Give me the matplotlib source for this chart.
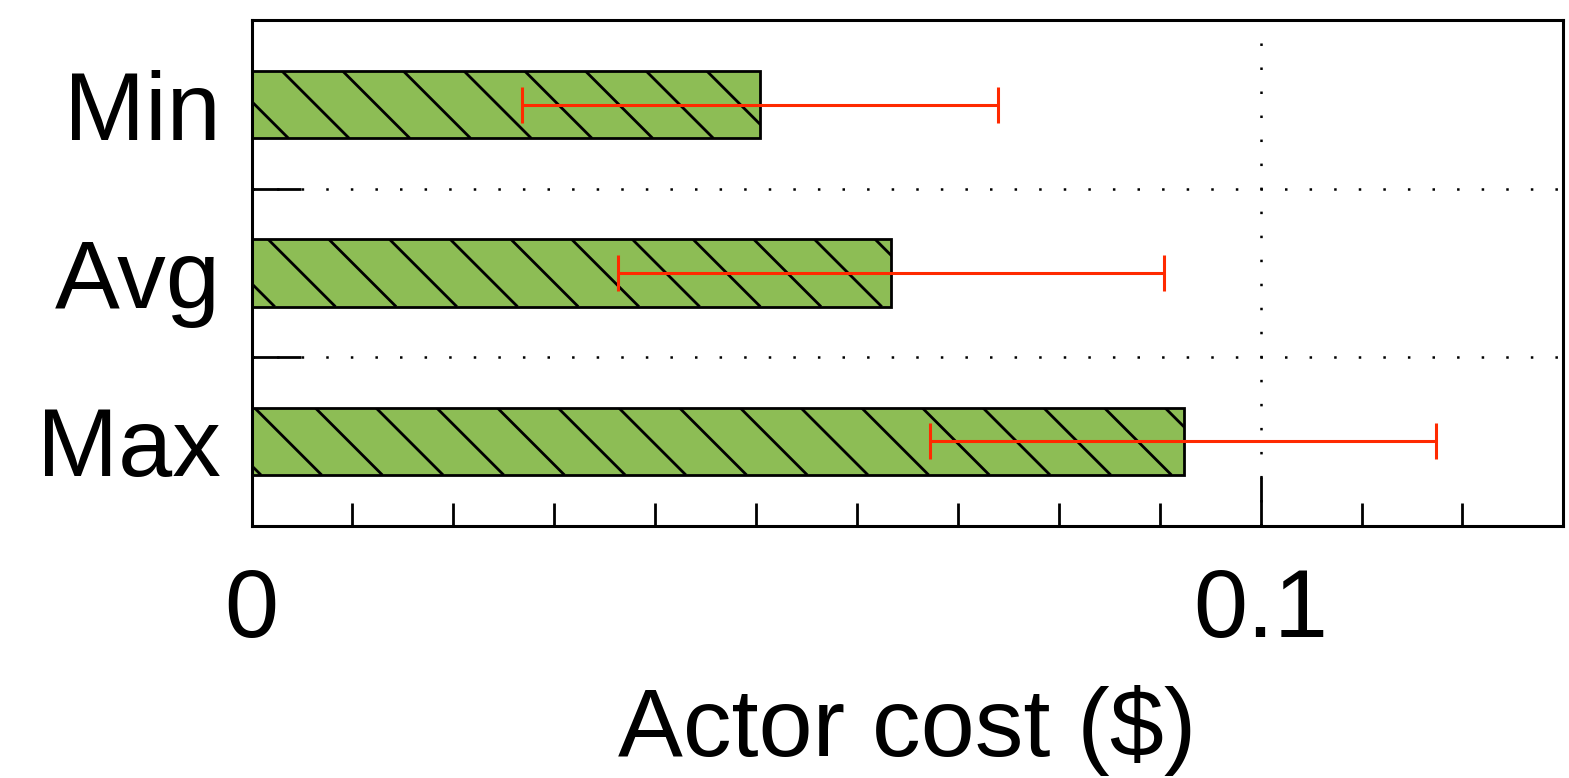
import numpy as np
import matplotlib
matplotlib.use("Agg")
import matplotlib.pyplot as plt
from matplotlib.transforms import IdentityTransform

# actor cost per run, in dollars
labels = ["Min", "Avg", "Max"]
cost = [0.0504, 0.0634, 0.0924]
err_lo = [0.0268, 0.0363, 0.0672]
err_hi = [0.0740, 0.0904, 0.1174]

plt.rcParams["font.family"] = ["Liberation Sans", "DejaVu Sans"]
plt.rcParams["lines.scale_dashes"] = False

fig = plt.figure(figsize=(15.69, 7.78), dpi=100)
ax = fig.add_axes([0.1603, 0.3245, 0.8361, 0.6492])

y = np.arange(len(labels))
ax.set_xlim(0, 0.13)
ax.set_ylim(len(labels) - 0.5, -0.5)

# green fill first, hatch on top, outline last
bars = ax.barh(y, cost, height=0.4, color="#8DBD55", edgecolor="none", zorder=2)

# sparse "\" hatch drawn by hand (built-in hatch is too dense at this size)
step, phase = 60.7, 17.7
for bar in bars:
    x0, y0, x1, y1 = bar.get_window_extent().extents
    c0 = np.floor((x0 + y0 - phase) / step) * step + phase
    for c in np.arange(c0, x1 + y1 + step, step):
        ln, = ax.plot([c - y1, c - y0], [y1, y0], transform=IdentityTransform(),
                      color="black", lw=2.0, solid_capstyle="butt", zorder=3)
        ln.set_clip_path(bar)

ax.barh(y, cost, height=0.4, fill=False, edgecolor="black", linewidth=2.0, zorder=4)

lo = np.array(err_lo)
hi = np.array(err_hi)
ax.errorbar((lo + hi) / 2, y, xerr=(hi - lo) / 2, fmt="none", ecolor="#FF2A00",
            elinewidth=2.2, capsize=13.3, capthick=2.2, zorder=5)

# ticks
ax.set_xticks([0, 0.1])
ax.set_xticklabels(["0", "0.1"])
ax.set_xticks(np.arange(0, 0.1301, 0.01), minor=True)
ax.tick_params(axis="x", which="major", direction="in", length=35, width=2,
               labelsize=70, pad=30)
ax.tick_params(axis="x", which="minor", direction="in", length=16.5, width=2)

ax.set_yticks(np.arange(-0.5, len(labels), 1.0))
ax.set_yticks(y, labels, minor=True)
ax.tick_params(axis="y", which="major", direction="in", length=35, width=2,
               labelleft=False)
ax.tick_params(axis="y", which="minor", length=0, labelsize=70, pad=22)

# dotted grid
ax.xaxis.grid(True, which="major", color="black", lw=1.8, linestyle=(0, (1.8, 15.5)))
ax.yaxis.grid(True, which="major", color="black", lw=1.8, linestyle=(0, (1.8, 15.9)))
ax.set_axisbelow(True)

for s in ax.spines.values():
    s.set_linewidth(2.2)

ax.set_xlabel("Actor cost ($)", fontsize=70, labelpad=20)

fig.savefig("out.png", dpi=100)
